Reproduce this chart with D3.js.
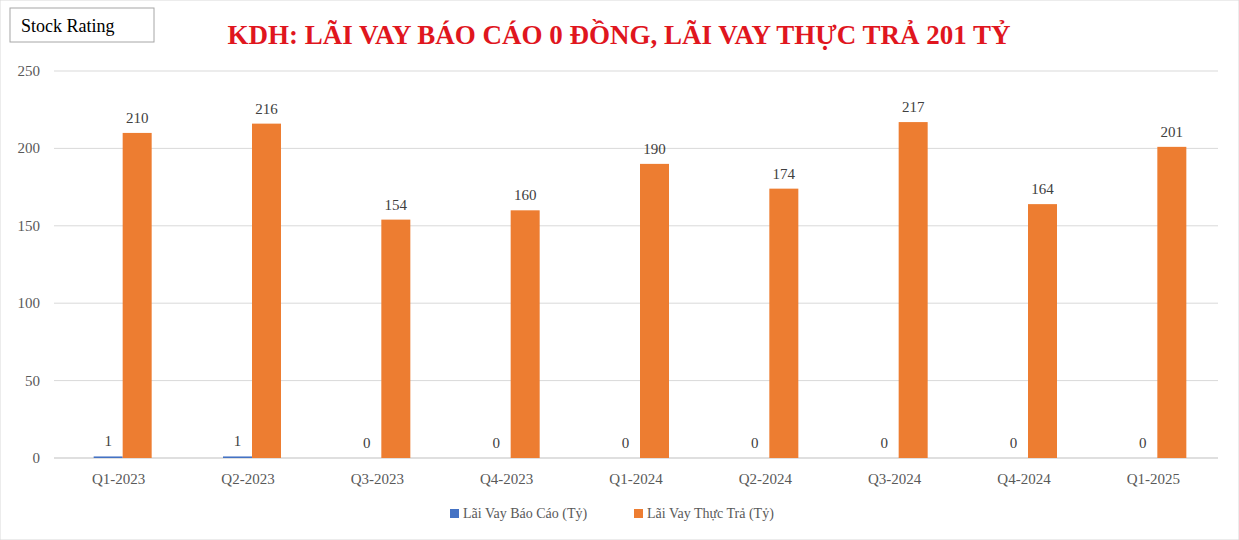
<!DOCTYPE html>
<html><head><meta charset="utf-8">
<script src="https://cdn.jsdelivr.net/npm/d3@7/dist/d3.min.js"></script>
<style>body{margin:0;background:#fff}</style></head>
<body><svg id="c" width="1239" height="540"></svg>
<script>
const categories=["Q1-2023","Q2-2023","Q3-2023","Q4-2023","Q1-2024","Q2-2024","Q3-2024","Q4-2024","Q1-2025"];
const reported=[1,1,0,0,0,0,0,0,0];
const actual=[210,216,154,160,190,174,217,164,201];
const yTicks=[0,50,100,150,200,250];
const seriesNames=["Lãi Vay Báo Cáo (Tỷ)","Lãi Vay Thực Trả (Tỷ)"];
const colors=["#4472C4","#ED7D31"];
const font="'Liberation Serif','DejaVu Serif',serif";
const svg=d3.select("#c");
svg.append("rect").attr("width",1239).attr("height",540).attr("fill","#fff").attr("stroke","#d9d9d9");
const x=d3.scaleBand().domain(categories).range([54,1218]);
const y=d3.scaleLinear().domain([0,250]).range([458,71]);
const g=svg.append("g");
g.selectAll("line.grid").data(yTicks).join("line").attr("x1",54).attr("x2",1218)
 .attr("y1",d=>y(d)).attr("y2",d=>y(d)).attr("stroke",d=>d===0?"#bfbfbf":"#d9d9d9").attr("stroke-width",1);
g.selectAll("text.yt").data(yTicks).join("text").attr("x",40).attr("y",d=>y(d)+5)
 .attr("text-anchor","end").attr("font-family",font).attr("font-size",15).attr("fill","#595959").text(d=>d);
const bw=29;
const cx=d=>x(d)+x.bandwidth()/2;
g.selectAll("rect.a").data(categories).join("rect").attr("x",d=>cx(d)-bw+4).attr("width",bw)
 .attr("y",(d,i)=>y(reported[i])).attr("height",(d,i)=>y(0)-y(reported[i])).attr("fill",colors[0]);
g.selectAll("rect.b").data(categories).join("rect").attr("x",d=>cx(d)+4).attr("width",bw)
 .attr("y",(d,i)=>y(actual[i])).attr("height",(d,i)=>y(0)-y(actual[i])).attr("fill",colors[1]);
g.selectAll("text.la").data(categories).join("text").attr("x",d=>cx(d)-bw/2+4).attr("y",(d,i)=>y(reported[i])-10)
 .attr("text-anchor","middle").attr("font-family",font).attr("font-size",15).attr("fill","#404040").text((d,i)=>reported[i]);
g.selectAll("text.lb").data(categories).join("text").attr("x",d=>cx(d)+4+bw/2).attr("y",(d,i)=>y(actual[i])-10)
 .attr("text-anchor","middle").attr("font-family",font).attr("font-size",15).attr("fill","#404040").text((d,i)=>actual[i]);
g.selectAll("text.xt").data(categories).join("text").attr("x",cx).attr("y",484)
 .attr("text-anchor","middle").attr("font-family",font).attr("font-size",15).attr("fill","#595959").text(d=>d);
// title
svg.append("text").attr("x",619).attr("y",44).attr("text-anchor","middle").attr("font-family",font)
 .attr("font-size",27).attr("font-weight","bold").attr("fill","#E0161E").text("KDH: LÃI VAY BÁO CÁO 0 ĐỒNG, LÃI VAY THỰC TRẢ 201 TỶ");
svg.append("rect").attr("x",10).attr("y",8).attr("width",144).attr("height",34).attr("fill","#fff").attr("stroke","#a6a6a6");
svg.append("text").attr("x",21).attr("y",32).attr("font-family",font).attr("font-size",18).attr("fill","#000").text("Stock Rating");
// legend
const lx=[450,634];
seriesNames.forEach((n,i)=>{
 svg.append("rect").attr("x",lx[i]).attr("y",509).attr("width",9).attr("height",9).attr("fill",colors[i]);
 svg.append("text").attr("x",lx[i]+13).attr("y",518).attr("font-family",font).attr("font-size",14).attr("fill","#595959").text(n);
});
</script></body></html>
